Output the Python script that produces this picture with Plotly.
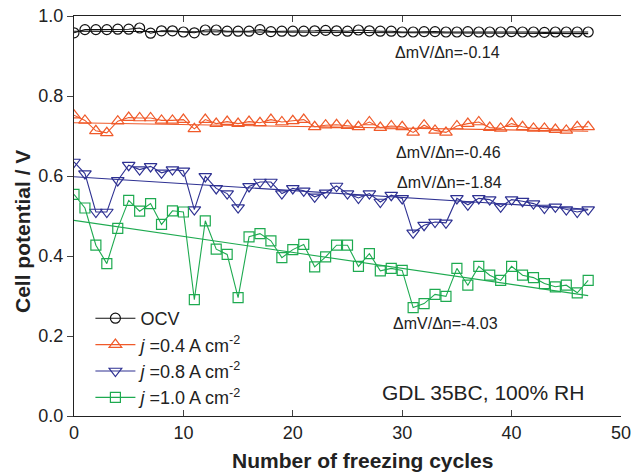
import plotly.graph_objects as go

cycles = list(range(48))

ocv = [0.958, 0.966, 0.966, 0.966, 0.967, 0.967, 0.970, 0.957, 0.963, 0.963,
       0.960, 0.958, 0.965, 0.965, 0.962, 0.962, 0.962, 0.966, 0.961, 0.962,
       0.962, 0.962, 0.963, 0.964, 0.963, 0.962, 0.965, 0.963, 0.962, 0.962,
       0.960, 0.960, 0.961, 0.961, 0.960, 0.960, 0.961, 0.960, 0.960, 0.960,
       0.961, 0.960, 0.960, 0.959, 0.960, 0.960, 0.960, 0.960]

j04 = [0.752, 0.739, 0.713, 0.708, 0.737, 0.746, 0.745, 0.745, 0.739, 0.739,
       0.741, 0.718, 0.741, 0.731, 0.736, 0.731, 0.736, 0.733, 0.741, 0.735,
       0.738, 0.741, 0.723, 0.727, 0.728, 0.726, 0.723, 0.735, 0.721, 0.725,
       0.723, 0.709, 0.727, 0.714, 0.709, 0.725, 0.731, 0.735, 0.721, 0.719,
       0.731, 0.723, 0.719, 0.719, 0.716, 0.714, 0.723, 0.723]

j08 = [0.635, 0.606, 0.510, 0.510, 0.589, 0.627, 0.616, 0.624, 0.608, 0.616,
       0.613, 0.516, 0.599, 0.569, 0.556, 0.521, 0.574, 0.585, 0.585, 0.556,
       0.569, 0.563, 0.548, 0.558, 0.575, 0.556, 0.545, 0.556, 0.535, 0.552,
       0.544, 0.458, 0.477, 0.485, 0.483, 0.544, 0.528, 0.544, 0.541, 0.523,
       0.541, 0.537, 0.531, 0.520, 0.523, 0.516, 0.510, 0.516]

j10 = [0.554, 0.520, 0.427, 0.381, 0.469, 0.539, 0.512, 0.531, 0.479, 0.513,
       0.510, 0.291, 0.488, 0.417, 0.404, 0.296, 0.448, 0.456, 0.438, 0.396,
       0.416, 0.429, 0.373, 0.398, 0.427, 0.427, 0.374, 0.406, 0.363, 0.369,
       0.364, 0.271, 0.281, 0.304, 0.299, 0.369, 0.327, 0.374, 0.352, 0.339,
       0.374, 0.352, 0.346, 0.331, 0.323, 0.327, 0.308, 0.339]

series_names = ["OCV", "<i>j</i> =0.4 A cm<sup>-2</sup>",
                "<i>j</i> =0.8 A cm<sup>-2</sup>", "<i>j</i> =1.0 A cm<sup>-2</sup>"]
series_values = [ocv, j04, j08, j10]

# linear fits: value at first and last cycle
fit_x = [0, 47]
fit_start = [0.962, 0.733, 0.598, 0.489]
fit_end = [0.956, 0.712, 0.517, 0.301]
slope_labels = ["ΔmV/Δn=-0.14", "ΔmV/Δn=-0.46", "ΔmV/Δn=-1.84", "ΔmV/Δn=-4.03"]
slope_label_x = [34.1, 34.2, 34.3, 34.0]
slope_label_y = [0.91, 0.66, 0.585, 0.232]

colors = ["#111111", "#F05A2A", "#2E3192", "#1EAA50"]
symbols = ["circle-open", "triangle-up-open", "triangle-down-open", "square-open"]
sizes = [10, 11, 11, 10]

FONT = "Liberation Sans, Arial, Helvetica, sans-serif"

fig = go.Figure()
for name, vals, c, s, sz in zip(series_names, series_values, colors, symbols, sizes):
    fig.add_trace(go.Scatter(
        x=cycles, y=vals, mode="lines+markers", name=name,
        line=dict(color=c, width=1.1),
        marker=dict(symbol=s, size=sz, color=c, line=dict(color=c, width=1.2)),
    ))
for a, b, c in zip(fit_start, fit_end, colors):
    fig.add_trace(go.Scatter(
        x=fit_x, y=[a, b], mode="lines", showlegend=False,
        line=dict(color=c, width=1.1), hoverinfo="skip",
    ))

for t, x, y in zip(slope_labels, slope_label_x, slope_label_y):
    fig.add_annotation(x=x, y=y, text=t, showarrow=False,
                       font=dict(size=16, color="#222222", family=FONT),
                       xanchor="center", yanchor="middle")
fig.add_annotation(x=37.4, y=0.06, text="GDL 35BC, 100% RH", showarrow=False,
                   font=dict(size=21, color="#222222", family=FONT),
                   xanchor="center", yanchor="middle")

# axis titles as paper-anchored annotations
fig.add_annotation(xref="paper", yref="paper", x=0.528, y=-0.11,
                   text="<b>Number of freezing cycles</b>", showarrow=False,
                   font=dict(size=21, color="#222222", family=FONT),
                   xanchor="center", yanchor="middle")
fig.add_annotation(xref="paper", yref="paper", x=-0.095, y=0.46,
                   text="<b>Cell potential / V</b>", showarrow=False, textangle=-90,
                   font=dict(size=21, color="#222222", family=FONT),
                   xanchor="center", yanchor="middle")

fig.update_layout(
    width=633, height=473,
    margin=dict(l=74, r=12, t=16, b=57, autoexpand=False),
    paper_bgcolor="white", plot_bgcolor="white",
    font=dict(family=FONT, size=18, color="#222222"),
    showlegend=True,
    legend=dict(x=0.03, y=0.29, xanchor="left", yanchor="top",
                bgcolor="rgba(0,0,0,0)", font=dict(size=18, family=FONT),
                tracegroupgap=0, itemwidth=40),
    xaxis=dict(range=[0, 50], dtick=10, ticks="inside", ticklen=6,
               showline=True, linecolor="#222222", linewidth=1.2,
               mirror="ticks", showgrid=False, zeroline=False,
               tickfont=dict(size=18), automargin=False),
    yaxis=dict(range=[0, 1.0], dtick=0.2, tickformat=".1f", ticks="outside",
               ticklen=6, showline=True, linecolor="#222222", linewidth=1.2,
               mirror=False, showgrid=False, zeroline=False,
               tickfont=dict(size=18), automargin=False),
    yaxis2=dict(range=[0, 1.0], dtick=0.2, overlaying="y", side="right",
                matches="y", ticks="inside", ticklen=6, showticklabels=False,
                showline=True, linecolor="#222222", linewidth=1.2,
                showgrid=False, zeroline=False, automargin=False),
)

fig.write_html("out.html")
